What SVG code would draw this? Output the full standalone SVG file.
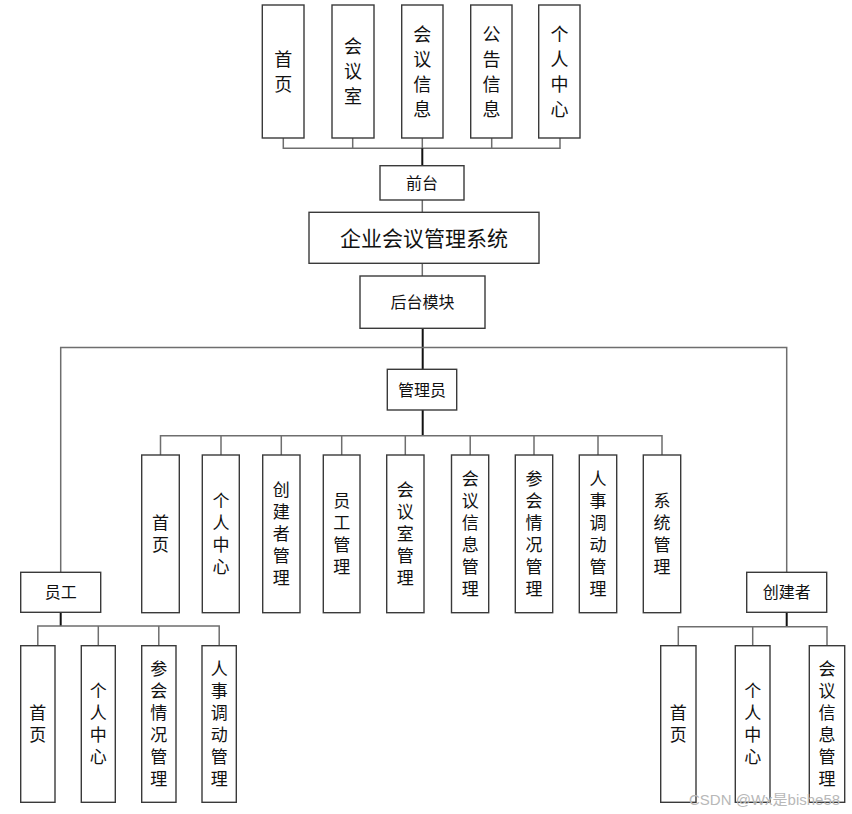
<svg xmlns="http://www.w3.org/2000/svg" width="852" height="814" viewBox="0 0 852 814">
<style>
.box{fill:#ffffff;stroke:#3a3a3a;stroke-width:1.4}
.ln{fill:none;stroke:#6e6e6e;stroke-width:1.5}
.tr{fill:none;stroke:#111111;stroke-width:2}
text{font-family:"Noto Sans CJK SC","Noto Sans CJK TC",sans-serif;fill:#111111;text-anchor:middle}
.v18{font-size:18px;writing-mode:vertical-rl;text-orientation:upright;letter-spacing:7px}
.v17{font-size:17px;writing-mode:vertical-rl;text-orientation:upright;letter-spacing:5px}
.h16{font-size:16px}
.h20{font-size:21px}
.wm{font-family:"Liberation Sans","Noto Sans CJK SC",sans-serif;font-size:15px;fill:#b8b8b8;text-anchor:start}
</style>
<rect width="852" height="814" fill="#ffffff"/>
<g id="connectors">
<polyline class="ln" points="283.3,138 283.3,148.3 560,148.3 560,138"/>
<line class="ln" x1="352.7" y1="138" x2="352.7" y2="148.3"/>
<line class="ln" x1="422.3" y1="138" x2="422.3" y2="148.3"/>
<line class="ln" x1="491.7" y1="138" x2="491.7" y2="148.3"/>
<line class="tr" x1="422.3" y1="148.3" x2="422.3" y2="165.7"/>
<line class="ln" x1="422.3" y1="200" x2="422.3" y2="212.3"/>
<line class="ln" x1="422.3" y1="263.3" x2="422.3" y2="276"/>
<line class="tr" x1="422.7" y1="328.3" x2="422.7" y2="369.3"/>
<polyline class="ln" points="60.7,572.3 60.7,347.5 786.7,347.5 786.7,572.3"/>
<line class="tr" x1="422.7" y1="410" x2="422.7" y2="435.7"/>
<polyline class="ln" points="160.5,455 160.5,435.7 662,435.7 662,455"/>
<line class="ln" x1="221" y1="435.7" x2="221" y2="455"/>
<line class="ln" x1="281.3" y1="435.7" x2="281.3" y2="455"/>
<line class="ln" x1="341.7" y1="435.7" x2="341.7" y2="455"/>
<line class="ln" x1="405.3" y1="435.7" x2="405.3" y2="455"/>
<line class="ln" x1="470.2" y1="435.7" x2="470.2" y2="455"/>
<line class="ln" x1="534" y1="435.7" x2="534" y2="455"/>
<line class="ln" x1="598" y1="435.7" x2="598" y2="455"/>
<line class="tr" x1="60.7" y1="612.3" x2="60.7" y2="626"/>
<polyline class="ln" points="37.8,645.7 37.8,626 219.2,626 219.2,645.7"/>
<line class="ln" x1="98.3" y1="626" x2="98.3" y2="645.7"/>
<line class="ln" x1="158.8" y1="626" x2="158.8" y2="645.7"/>
<line class="tr" x1="786.7" y1="612.3" x2="786.7" y2="626.7"/>
<polyline class="ln" points="678.3,645.7 678.3,626.7 827,626.7 827,645.7"/>
<line class="ln" x1="752.7" y1="626.7" x2="752.7" y2="645.7"/>
</g>
<g id="top-home"><rect class="box" x="262.3" y="5" width="41.7" height="133"/><text class="v18" x="283.3" y="75">首页</text></g>
<g id="top-room"><rect class="box" x="332" y="5" width="42" height="133"/><text class="v18" x="353" y="75">会议室</text></g>
<g id="top-meeting"><rect class="box" x="401.7" y="5" width="41.3" height="133"/><text class="v18" x="422.3" y="75">会议信息</text></g>
<g id="top-notice"><rect class="box" x="470.7" y="5" width="41.3" height="133"/><text class="v18" x="491.5" y="75">公告信息</text></g>
<g id="top-personal"><rect class="box" x="538.7" y="5" width="41.3" height="133"/><text class="v18" x="559.5" y="75">个人中心</text></g>
<g id="frontend"><rect class="box" x="380" y="165.7" width="84" height="34.3"/><text class="h16" x="422" y="188.5">前台</text></g>
<g id="system"><rect class="box" x="309" y="212.3" width="230" height="51"/><text class="h20" x="424" y="245.5">企业会议管理系统</text></g>
<g id="backend"><rect class="box" x="360" y="276" width="125" height="52.3"/><text class="h16" x="422.5" y="307.5">后台模块</text></g>
<g id="admin"><rect class="box" x="387.3" y="369.3" width="69.4" height="40.7"/><text class="h16" x="422" y="395.5">管理员</text></g>
<g id="a-home"><rect class="box" x="141.7" y="455" width="37.6" height="157.7"/><text class="v17" x="160.5" y="536.5">首页</text></g>
<g id="a-personal"><rect class="box" x="202.3" y="455" width="37" height="157.7"/><text class="v17" x="221" y="536.5">个人中心</text></g>
<g id="a-creator"><rect class="box" x="262.7" y="455" width="37.3" height="157.7"/><text class="v17" x="281.3" y="536.5">创建者管理</text></g>
<g id="a-staff"><rect class="box" x="323.3" y="455" width="36.7" height="157.7"/><text class="v17" x="341.7" y="536.5">员工管理</text></g>
<g id="a-room"><rect class="box" x="386.7" y="455" width="37.3" height="157.7"/><text class="v17" x="405.3" y="536.5">会议室管理</text></g>
<g id="a-meeting"><rect class="box" x="451.5" y="455" width="37.2" height="157.7"/><text class="v17" x="470.2" y="536.5">会议信息管理</text></g>
<g id="a-attend"><rect class="box" x="515.3" y="455" width="37.4" height="157.7"/><text class="v17" x="534" y="536.5">参会情况管理</text></g>
<g id="a-transfer"><rect class="box" x="579.3" y="455" width="37.4" height="157.7"/><text class="v17" x="598" y="536.5">人事调动管理</text></g>
<g id="a-sys"><rect class="box" x="643.3" y="455" width="37.4" height="157.7"/><text class="v17" x="662" y="536.5">系统管理</text></g>
<g id="staff"><rect class="box" x="20.7" y="572.3" width="80" height="40"/><text class="h16" x="60.7" y="598">员工</text></g>
<g id="creator"><rect class="box" x="746.7" y="572.3" width="80" height="40"/><text class="h16" x="786.7" y="598">创建者</text></g>
<g id="s-home"><rect class="box" x="20.7" y="645.7" width="34.3" height="156.6"/><text class="v17" x="37.8" y="726.5">首页</text></g>
<g id="s-personal"><rect class="box" x="81.3" y="645.7" width="34" height="156.6"/><text class="v17" x="98.3" y="726.5">个人中心</text></g>
<g id="s-attend"><rect class="box" x="141.7" y="645.7" width="34.3" height="156.6"/><text class="v17" x="158.8" y="726.5">参会情况管理</text></g>
<g id="s-transfer"><rect class="box" x="202" y="645.7" width="34.3" height="156.6"/><text class="v17" x="219.2" y="726.5">人事调动管理</text></g>
<g id="c-home"><rect class="box" x="660.7" y="645.7" width="35.3" height="156.6"/><text class="v17" x="678.3" y="726.5">首页</text></g>
<g id="c-personal"><rect class="box" x="735.3" y="645.7" width="34.7" height="156.6"/><text class="v17" x="752.7" y="726.5">个人中心</text></g>
<g id="c-meeting"><rect class="box" x="809.3" y="645.7" width="35.4" height="156.6"/><text class="v17" x="827" y="726.5">会议信息管理</text></g>
<text class="wm" x="689" y="805">CSDN @Wx是bishe58</text>
</svg>
